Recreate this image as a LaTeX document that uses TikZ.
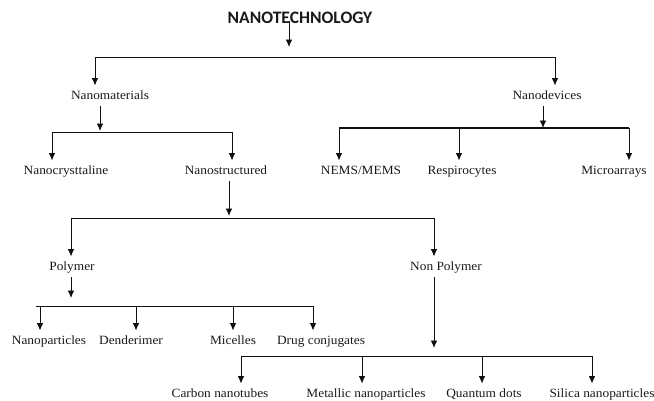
\documentclass[tikz,border=0pt]{standalone}
\usepackage{fontspec}
\setmainfont[FakeStretch=1.06]{Liberation Serif}
\newfontfamily\titlefont{Carlito}
\usepackage{xcolor}
\usetikzlibrary{positioning, arrows.meta}
\definecolor{inkline}{RGB}{15,15,15}
\definecolor{inktext}{RGB}{25,25,25}
\tikzset{
  lbl/.style={font=\fontsize{12.6}{14}\selectfont, text=inktext, inner xsep=1pt, inner ysep=5pt, text height=8.5pt, text depth=2pt},
  arr/.style={-{Latex[length=7.5pt,width=6.5pt]}, line width=0.9pt, inkline},
  bus/.style={line width=0.9pt, inkline}
}
\begin{document}
\begin{tikzpicture}[x=1pt, y=-1pt]
\useasboundingbox (0,0) rectangle (654,400);

\node[font=\titlefont\bfseries\fontsize{17.5}{20}\selectfont, text=inktext, inner sep=0pt] (nano) at (300,18) {NANOTECHNOLOGY};

\node[lbl] (mat) at (110,96) {Nanomaterials};
\node[lbl] (dev) at (547,96) {Nanodevices};

\node[lbl] (cry) at (66,171) {Nanocrysttaline};
\node[lbl] (str) at (226,171) {Nanostructured};
\node[lbl] (nems) at (361,171) {NEMS/MEMS};
\node[lbl] (resp) at (462,171) {Respirocytes};
\node[lbl] (micro) at (614,171) {Microarrays};

\node[lbl] (poly) at (72,267) {Polymer};
\node[lbl] (npoly) at (446,267) {Non Polymer};

\node[lbl] (part) at (49,341) {Nanoparticles};
\node[lbl] (dend) at (131,341) {Denderimer};
\node[lbl] (mic) at (233,341) {Micelles};
\node[lbl] (drug) at (321,341) {Drug conjugates};

\node[lbl] (carb) at (220,394) {Carbon nanotubes};
\node[lbl] (metal) at (366,394) {Metallic nanoparticles};
\node[lbl] (quant) at (484,394) {Quantum dots};
\node[lbl] (sil) at (602,394) {Silica nanoparticles};

\coordinate (t0) at (289,47);
\draw[arr] ([yshift=3pt]nano.south -| t0) -- (t0);
\draw[bus] (95,57) coordinate (b1a) -- (555,57) coordinate (b1b);
\draw[arr] (b1a) -- (b1a |- mat.north);
\draw[arr] (b1b) -- (b1b |- dev.north);

\coordinate (t1) at (100,131);
\draw[arr] (mat.south -| t1) -- (t1);
\draw[bus] (52,132) coordinate (b2a) -- (232,132) coordinate (b2b);
\draw[arr] (b2a) -- (b2a |- cry.north);
\draw[arr] (b2b) -- (b2b |- str.north);

\coordinate (t2) at (543,128);
\draw[arr] (dev.south -| t2) -- (t2);
\draw[bus, line width=1.4pt] (339,128) coordinate (b2c) -- (629,128) coordinate (b2e);
\coordinate (b2d) at (459,128);
\draw[arr] (b2c) -- (b2c |- nems.north);
\draw[arr] (b2d) -- (b2d |- resp.north);
\draw[arr] (b2e) -- (b2e |- micro.north);

\coordinate (t3) at (229,216);
\draw[arr] (str.south -| t3) -- (t3);
\draw[bus] (71,218) coordinate (b3a) -- (434,218) coordinate (b3b);
\draw[arr] (b3a) -- (b3a |- poly.north);
\draw[arr] (b3b) -- (b3b |- npoly.north);

\coordinate (t4) at (71,298);
\draw[arr] (poly.south -| t4) -- (t4);
\draw[bus] (36,306) coordinate (b4a) -- (313,306) coordinate (b4d);
\coordinate (b4b) at (136,306);
\coordinate (b4c) at (233,306);
\draw[arr] ([xshift=4pt]b4a) -- ([xshift=4pt]b4a |- part.north);
\draw[arr] (b4b) -- (b4b |- dend.north);
\draw[arr] (b4c) -- (b4c |- mic.north);
\draw[arr] (b4d) -- (b4d |- drug.north);

\coordinate (t5) at (434,348);
\draw[arr] (npoly.south -| t5) -- (t5);
\draw[bus] (241,356) coordinate (b5a) -- (592,356) coordinate (b5d);
\coordinate (b5b) at (362,356);
\coordinate (b5c) at (482,356);
\draw[arr] (b5a) -- (b5a |- carb.north);
\draw[arr] (b5b) -- (b5b |- metal.north);
\draw[arr] (b5c) -- (b5c |- quant.north);
\draw[arr] (b5d) -- (b5d |- sil.north);
\end{tikzpicture}
\end{document}
